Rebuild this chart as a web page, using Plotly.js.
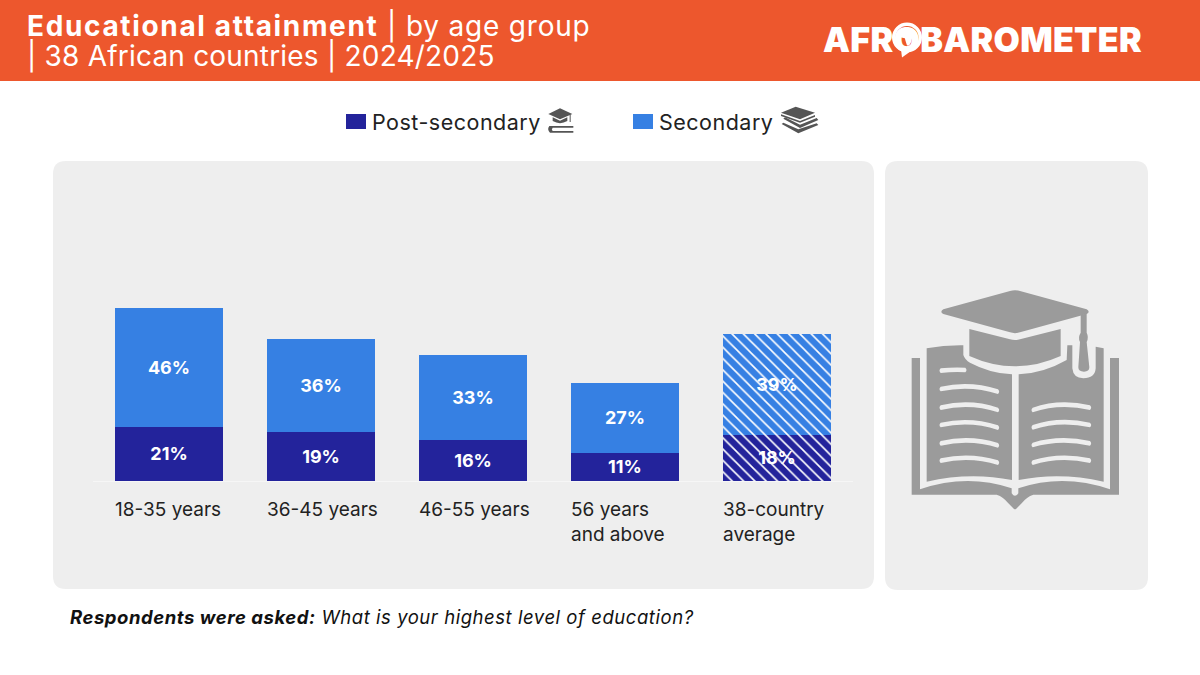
<!DOCTYPE html>
<html>
<head>
<meta charset="utf-8">
<script src="https://cdn.plot.ly/plotly-3.0.1.min.js"></script>
<style>
html,body{margin:0;padding:0;background:#fff}
.annotation[data-index="0"] tspan.line{letter-spacing:.8px}
.annotation[data-index="0"] tspan.line tspan{letter-spacing:1.65px}
.annotation[data-index="0"] tspan.line + tspan.line{letter-spacing:.2px}
.annotation[data-index="1"] text{letter-spacing:.3px}
.annotation[data-index="2"] text,.annotation[data-index="3"] text{letter-spacing:.5px}
.annotation[data-index="4"] text{letter-spacing:.55px}
</style>
</head>
<body>
<div id="chart" style="width:1200px;height:675px"></div>
<script>
var categories = ['18-35 years', '36-45 years', '46-55 years', '56 years and above', '38-country average'];
var tickLabels = ['18-35 years', '36-45 years', '46-55 years', '56 years<br>and above', '38-country<br>average'];
var postSecondary = [21, 19, 16, 11, 18];
var secondary = [46, 36, 33, 27, 39];
var hatch = ['', '', '', '', '\\'];

var W = 1200, H = 675;
var FONT = 'Inter, "Open Sans", sans-serif';
var ORANGE = '#ED572D', NAVY = '#23239B', BLUE = '#3680E3', PANEL = '#EEEEEE', GREY = '#9B9B9B', DARK = '#555555';

function px(x) { return x / W; }
function py(y) { return 1 - y / H; }

// icon paths are written in their own units, then moved to paper coordinates
function place(d, ox, oy, s) {
	return d.replace(/(-?[\d.]+),(-?[\d.]+)/g, function (m, a, b) {
		return px(ox + a * s).toFixed(5) + ',' + py(oy + b * s).toFixed(5);
	});
}

function icon(d, ox, oy, s, color) {
	return { type: 'path', xref: 'paper', yref: 'paper', layer: 'above', path: place(d, ox, oy, s),
		fillcolor: color, line: { width: 0 } };
}

function disc(cx, cy, r, color) {
	return { type: 'circle', xref: 'paper', yref: 'paper', layer: 'above', x0: px(cx - r), x1: px(cx + r),
		y0: py(cy + r), y1: py(cy - r), fillcolor: color, line: { width: 0 } };
}

function box(x0, y0, x1, y1, r, color) {
	var d = 'M' + (x0 + r) + ',' + y0 + ' L' + (x1 - r) + ',' + y0 + ' Q' + x1 + ',' + y0 + ' ' + x1 + ',' + (y0 + r) +
		' L' + x1 + ',' + (y1 - r) + ' Q' + x1 + ',' + y1 + ' ' + (x1 - r) + ',' + y1 +
		' L' + (x0 + r) + ',' + y1 + ' Q' + x0 + ',' + y1 + ' ' + x0 + ',' + (y1 - r) +
		' L' + x0 + ',' + (y0 + r) + ' Q' + x0 + ',' + y0 + ' ' + (x0 + r) + ',' + y0 + ' Z';
	var s = icon(d, 0, 0, 1, color);
	s.layer = 'below';
	return s;
}

// rounded text line on the book pages
function bookLine(a, b, c, d, e, f) {
	var t = 7;
	return 'M' + a + ',' + (b - t) + ' Q' + c + ',' + (d - t) + ' ' + e + ',' + (f - t) +
		' Q' + (e + t) + ',' + f + ' ' + e + ',' + (f + t) +
		' Q' + c + ',' + (d + t) + ' ' + a + ',' + (b + t) +
		' Q' + (a - t) + ',' + b + ' ' + a + ',' + (b - t) + ' Z';
}

var bookParts = [
	'M160,88 L360,33 Q375,29 390,33 L590,88 Q602,95 590,102 L390,157 Q375,162 360,157 L160,102 Q148,95 160,88 Z',
	'M238,147 L360,178 Q375,182 390,178 L512,147 L512,228 Q375,290 238,228 Z',
	'M572,105 L590,100 L590,158 Q597,172 590,186 L598,262 Q598,275 582,275 Q565,275 565,262 L570,186 Q563,172 572,158 Z',
	'M110,205 Q165,195 220,196 L220,225 Q225,240 240,248 Q300,280 366,283 L366,600 Q240,575 110,605 Z',
	'M386,283 Q460,280 530,240 L532,196 L547,196 L547,265 Q550,295 580,295 Q615,295 617,265 L617,200 L641,205 L641,605 Q510,575 386,600 Z',
	'M65,234 L90,234 L90,628 Q230,580 365,625 L365,640 Q375,655 385,640 L385,625 Q520,580 660,628 L660,234 L687,234 L687,644 L430,644 Q410,650 395,670 L378,687 Q375,689 372,687 L355,670 Q340,650 320,644 L65,644 Z'
];
var bookLines = [
	[152, 272, 190, 268, 226, 270], [152, 327, 240, 308, 324, 335], [152, 383, 240, 362, 324, 390],
	[152, 435, 240, 415, 324, 443], [152, 490, 240, 470, 324, 496], [152, 542, 240, 522, 324, 548],
	[428, 390, 510, 362, 600, 383], [428, 442, 510, 415, 600, 435], [428, 495, 510, 470, 600, 490],
	[428, 548, 510, 522, 600, 542]
];

var capIcon = [
	'M25,42 L60,25 L97,42 L60,58 Z',
	'M38,52 L60,62 L82,52 L82,63 Q60,76 38,63 Z',
	'M89,44 L92,43 L92,66 L89,66 Z',
	'M28,78 L100,78 L100,83 L38,83 Q33,88 38,93 L100,93 L100,98 L30,98 Q20,88 28,78 Z'
];
var booksIcon = [
	'M18,38 L62,20 L120,38 L75,58 Z',
	'M18,43 L75,63 L120,45 L120,50 L75,68 L18,48 Z',
	'M25,56 L30,52 L75,74 L125,54 L130,60 L75,84 Z',
	'M20,72 L25,68 L70,88 L125,70 L130,75 L70,100 Z'
];
var africa = 'M-8,-9 L-3,-11 L2,-10 L4,-8 L8,-7 L11,-3 L7,1 L6,6 L3,11 L0,11 L-2,5 L-3,1 L-8,0 L-11,-4 Z';
var bubbleTail = 'M901,49 L902,57.5 L911,51 Z';

var shapes = [
	{ type: 'rect', xref: 'paper', yref: 'paper', layer: 'below', x0: 0, x1: 1, y0: py(81), y1: 1, fillcolor: ORANGE, line: { width: 0 } },
	box(53, 161, 874, 589, 13, PANEL),
	box(885, 161, 1148, 590, 13, PANEL),
	{ type: 'rect', xref: 'paper', yref: 'paper', x0: px(346), x1: px(366), y0: py(129), y1: py(114), fillcolor: NAVY, line: { width: 0 } },
	{ type: 'rect', xref: 'paper', yref: 'paper', x0: px(633), x1: px(653), y0: py(129), y1: py(114), fillcolor: BLUE, line: { width: 0 } },
	disc(907, 37.5, 15, '#FFFFFF'),
	disc(907, 37.5, 11.5, ORANGE),
	icon(africa, 907, 37.5, 0.72, '#FFFFFF'),
	icon(bubbleTail, 0, 0, 1, '#FFFFFF')
];
bookParts.forEach(function (d) { shapes.push(icon(d, 890, 280, 1 / 3, GREY)); });
bookLines.forEach(function (l) { shapes.push(icon(bookLine.apply(null, l), 890, 280, 1 / 3, PANEL)); });
capIcon.forEach(function (d) { shapes.push(icon(d, 540, 100, 1 / 3, DARK)); });
booksIcon.forEach(function (d) { shapes.push(icon(d, 775, 100, 1 / 3, DARK)); });

function note(text, x, y, size, color, weight) {
	return { text: text, xref: 'paper', yref: 'paper', x: px(x), y: py(y), xanchor: 'left', yanchor: 'middle',
		align: 'left', showarrow: false, font: { family: FONT, size: size, color: color, weight: weight || 400 } };
}

var title = note('<b>Educational attainment</b> | by age group<br>| 38 African countries | 2024/2025', 25, 0, 28, '#FFFFFF');
title.yanchor = 'top';
title.y = py(7);

var annotations = [
	title,
	note('AFROBAROMETER', 821, 39, 34, '#FFFFFF', 900),
	note('Post-secondary', 370, 122, 21.5, '#222222'),
	note('Secondary', 657, 122, 21.5, '#222222'),
	note('<b><i>Respondents were asked:</i></b> <i>What is your highest level of education?</i>', 68, 617, 18.5, '#111111')
];
tickLabels.forEach(function (t, i) {
	annotations.push({ text: t, xref: 'x', yref: 'paper', x: i, xshift: -56, y: py(496), xanchor: 'left', yanchor: 'top', align: 'left',
		showarrow: false, font: { family: FONT, size: 19, color: '#222222' } });
});

function series(name, values, color) {
	return {
		type: 'bar', name: name, x: categories, y: values,
		text: values.map(function (v) { return v + '%'; }),
		textposition: 'inside', insidetextanchor: 'middle', textangle: 0,
		textfont: { family: FONT, size: 18, color: '#FFFFFF', weight: 700 },
		cliponaxis: false, hoverinfo: 'x+y+name',
		marker: { color: color, line: { width: 0 },
			pattern: { shape: hatch, fgcolor: '#FFFFFF', bgcolor: color, size: 8, solidity: 0.2 } }
	};
}

var traces = [series('Post-secondary', postSecondary, NAVY), series('Secondary', secondary, BLUE)];

var layout = {
	width: W, height: H,
	margin: { l: 0, r: 0, t: 0, b: 0 },
	paper_bgcolor: '#FFFFFF', plot_bgcolor: 'rgba(0,0,0,0)',
	barmode: 'stack', bargap: 0.289, showlegend: false,
	font: { family: FONT },
	xaxis: { domain: [px(93), px(853)], type: 'category', showgrid: false, zeroline: false, showticklabels: false,
		showline: true, linecolor: '#F6F6F6', linewidth: 1, ticks: '' },
	yaxis: { domain: [py(481), py(170)], range: [0, 311 / 2.575], showgrid: false, zeroline: false, showticklabels: false, ticks: '' },
	shapes: shapes,
	annotations: annotations
};

Plotly.newPlot('chart', traces, layout, { displayModeBar: false, staticPlot: true }).then(function () {
	// header lines sit closer together than plotly's fixed 1.3em
	var lines = document.querySelectorAll('.annotation[data-index="0"] tspan.line');
	if (lines.length > 1) lines[1].setAttribute('dy', '30px');
});
</script>
</body>
</html>
